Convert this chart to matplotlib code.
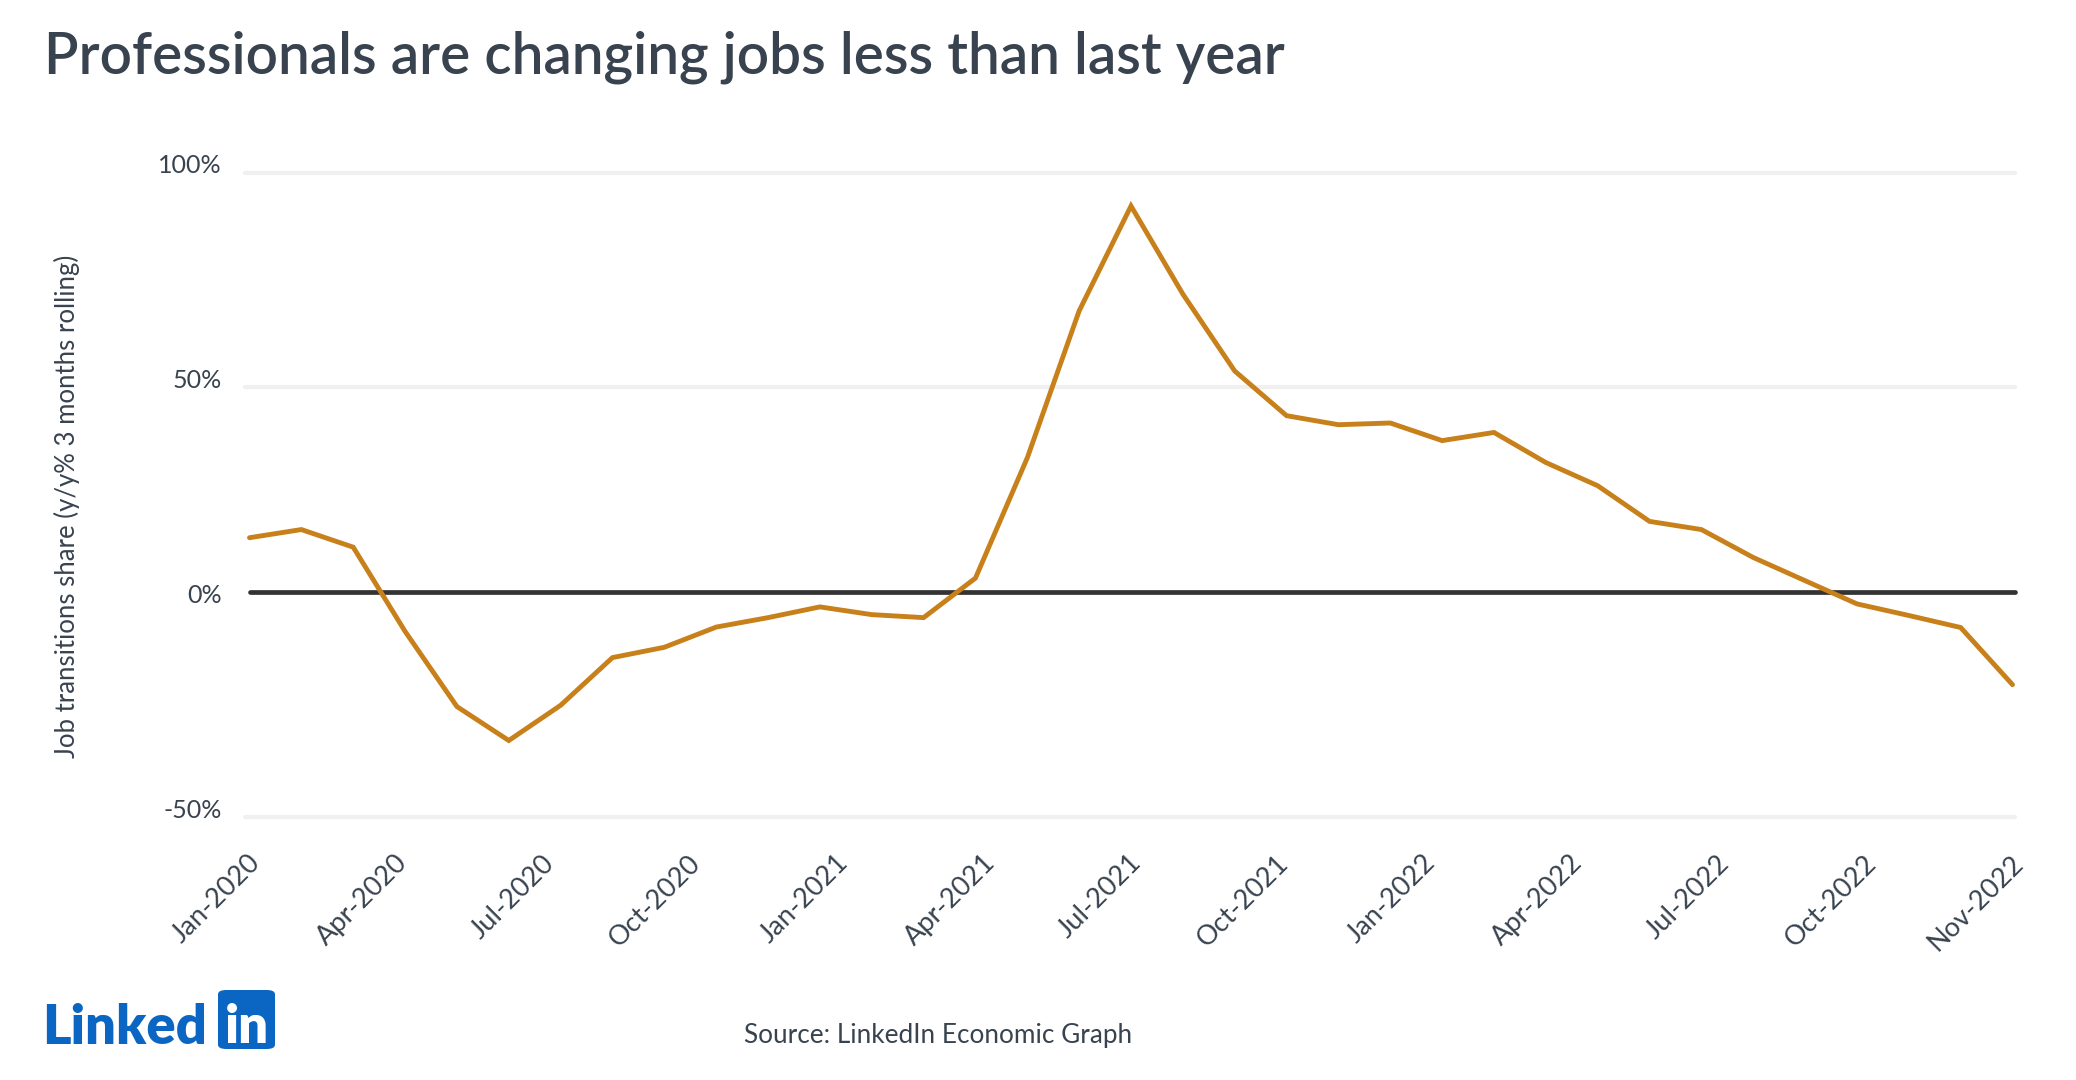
import matplotlib
matplotlib.use("Agg")
import matplotlib.pyplot as plt
import matplotlib.transforms as mtransforms
from matplotlib.patches import FancyBboxPatch
import numpy as np

# ---------------- data ----------------
months = ["Jan-2020", "Feb-2020", "Mar-2020", "Apr-2020", "May-2020", "Jun-2020",
          "Jul-2020", "Aug-2020", "Sep-2020", "Oct-2020", "Nov-2020", "Dec-2020",
          "Jan-2021", "Feb-2021", "Mar-2021", "Apr-2021", "May-2021", "Jun-2021",
          "Jul-2021", "Aug-2021", "Sep-2021", "Oct-2021", "Nov-2021", "Dec-2021",
          "Jan-2022", "Feb-2022", "Mar-2022", "Apr-2022", "May-2022", "Jun-2022",
          "Jul-2022", "Aug-2022", "Sep-2022", "Oct-2022", "Nov-2022"]
values = [15.0, 16.9, 12.8, -6.8, -24.3, -32.2,
          -24.0, -12.9, -10.5, -5.8, -3.6, -1.1,
          -2.9, -3.6, 5.6, 33.6, 67.8, 92.2,
          71.7, 53.8, 43.4, 41.3, 41.7, 37.6,
          39.5, 32.5, 27.1, 18.8, 16.9, 10.4,
          5.0, -0.4, -3.1, -5.9, -19.2]
xtick_labels = ["Jan-2020", "Apr-2020", "Jul-2020", "Oct-2020", "Jan-2021", "Apr-2021",
                "Jul-2021", "Oct-2021", "Jan-2022", "Apr-2022", "Jul-2022", "Oct-2022",
                "Nov-2022"]
ytick_values = [100, 50, 0, -50]
ytick_labels = ["100%", "50%", "0%", "-50%"]
grid_values = [100, 50, -50]
baseline_value = 2.4

title = "Professionals are changing jobs less than last year"
ylabel = "Job transitions share (y/y% 3 months rolling)"
source = "Source: LinkedIn Economic Graph"

# ---------------- style ----------------
W, H, DPI = 2076, 1080, 100
TEXT = "#38434f"
LINE = "#c8801a"
GRID = "#f0f0f0"
ZERO = "#333333"
BLUE = "#0a66c2"
FONT = ["Lato", "DejaVu Sans"]
plt.rcParams["font.family"] = FONT

fig = plt.figure(figsize=(W / DPI, H / DPI), dpi=DPI)
fig.patch.set_facecolor("white")

def px(x, y):
    return x / W, 1 - y / H

ax_left, ax_right = 245, 2015
ax_top, ax_bottom = 172.5, 817
ax = fig.add_axes([ax_left / W, 1 - ax_bottom / H, (ax_right - ax_left) / W,
                   (ax_bottom - ax_top) / H])
ax.set_facecolor("none")
for s in ax.spines.values():
    s.set_visible(False)

xs = np.arange(len(values))
ax.set_xlim(-0.087, len(values) - 1 + 0.048)
ax.set_ylim(-50, 100)

for g in grid_values:
    ax.plot([ax.get_xlim()[0], ax.get_xlim()[1]], [g, g], color=GRID, lw=3,
            solid_capstyle="round", zorder=1, clip_on=False)
ax.plot([0.0, ax.get_xlim()[1]], [baseline_value, baseline_value], color=ZERO,
        lw=3.4, solid_capstyle="round", zorder=2, clip_on=False)

ax.plot(xs, values, color=LINE, lw=3.5, solid_joinstyle="miter",
        solid_capstyle="round", zorder=3, clip_on=False)

# y ticks
ax.set_yticks(ytick_values)
ax.set_yticklabels(ytick_labels)
ax.tick_params(axis="y", length=0, pad=17, labelsize=18, labelcolor=TEXT)
off = mtransforms.ScaledTranslation(0, 9 / DPI, fig.dpi_scale_trans)
for lab in ax.get_yticklabels():
    lab.set_transform(lab.get_transform() + off)

# x ticks evenly spread
xt = np.linspace(0, len(values) - 1, len(xtick_labels))
ax.set_xticks(xt)
ax.set_xticklabels(xtick_labels, rotation=45, ha="right", va="top",
                   rotation_mode="anchor")
ax.tick_params(axis="x", length=0, pad=24, labelsize=19.5, labelcolor=TEXT)
offx = mtransforms.ScaledTranslation(-2 / DPI, 0, fig.dpi_scale_trans)
for lab in ax.get_xticklabels():
    lab.set_transform(lab.get_transform() + offx)

# texts
t_title = fig.text(*px(44, 73), title, fontsize=40, color=TEXT,
                   fontweight="semibold", ha="left", va="baseline")
t_ylab = fig.text(*px(67, 506), ylabel, fontsize=15, color=TEXT,
                  rotation=90, ha="center", va="center")
t_src = fig.text(*px(744, 1036), source, fontsize=16, color=TEXT,
                 ha="left", va="center")

# logo
t_linked = fig.text(*px(42, 1044), "Linked", fontsize=36, color=BLUE,
                    fontweight="heavy", ha="left", va="baseline")
box_x0, box_y0, box_x1, box_y1 = 218, 990, 275, 1049
box = FancyBboxPatch(px(box_x0, box_y1), (box_x1 - box_x0) / W, (box_y1 - box_y0) / H,
                     boxstyle="round,pad=0,rounding_size=0.004",
                     transform=fig.transFigure, facecolor=BLUE, edgecolor="none")
fig.patches.append(box)
t_in = fig.text(*px((box_x0 + box_x1) / 2, 1043), "in", fontsize=38, color="white",
                fontweight="heavy", ha="center", va="baseline")

# fit text widths to reference extents
fig.canvas.draw()
r = fig.canvas.get_renderer()
def fit(t, target, horiz=True):
    bb = t.get_window_extent(r)
    cur = bb.width if horiz else bb.height
    t.set_fontsize(t.get_fontsize() * target / cur)
fit(t_title, 1240)
fit(t_ylab, 503, horiz=False)
fit(t_src, 388)
fit(t_linked, 165)

fig.savefig("out.png", dpi=DPI, facecolor="white")
